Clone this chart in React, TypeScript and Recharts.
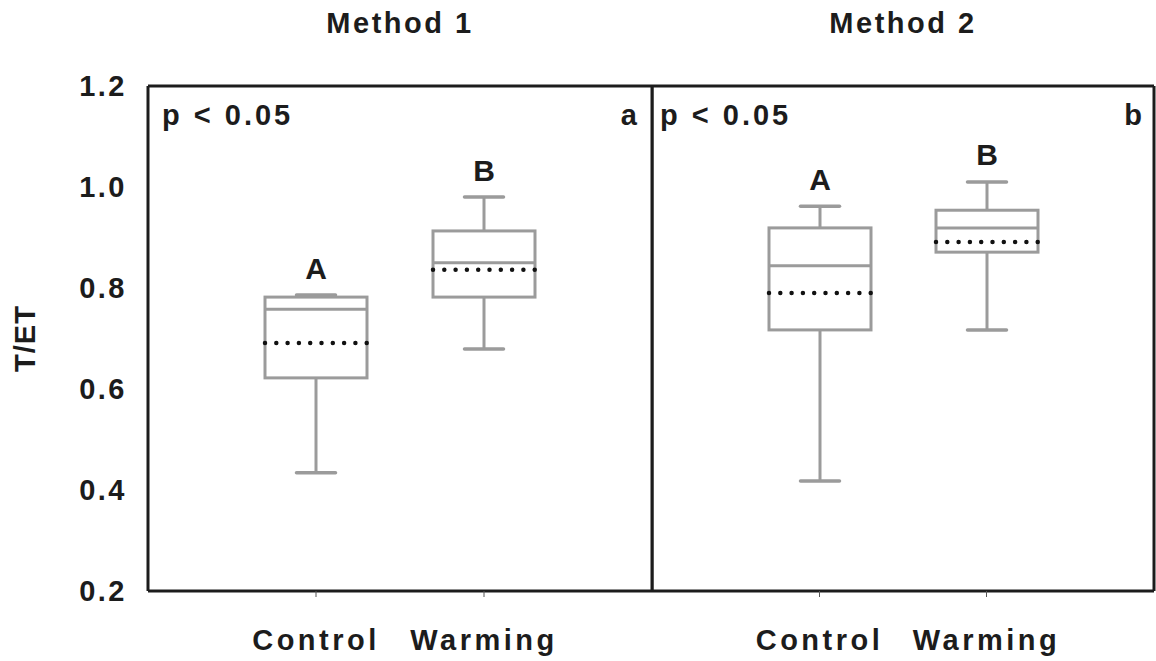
import { BarChart, Bar, XAxis, YAxis } from "recharts";

const CATEGORIES = ["Control", "Warming"];
const Y_TICKS = [0.2, 0.4, 0.6, 0.8, 1.0, 1.2];

// Method 1 (panel a)
const M1_MIN = [0.434, 0.679];
const M1_Q1 = [0.622, 0.782];
const M1_MEDIAN = [0.758, 0.85];
const M1_Q3 = [0.782, 0.913];
const M1_MAX = [0.786, 0.98];
const M1_MEAN = [0.691, 0.836];
const M1_LETTERS = ["A", "B"];

// Method 2 (panel b)
const M2_MIN = [0.418, 0.717];
const M2_Q1 = [0.717, 0.871];
const M2_MEDIAN = [0.844, 0.919];
const M2_Q3 = [0.919, 0.954];
const M2_MAX = [0.962, 1.01];
const M2_MEAN = [0.79, 0.891];
const M2_LETTERS = ["A", "B"];

const FONT = "'Liberation Sans', Arial, sans-serif";
const INK = "#1c1c1c";
const BOX = "#9b9b9b";

type Row = {
  name: string;
  min: number;
  q1: number;
  median: number;
  q3: number;
  max: number;
  mean: number;
  letter: string;
};

function buildRows(
  min: number[],
  q1: number[],
  median: number[],
  q3: number[],
  max: number[],
  mean: number[],
  letters: string[]
): Row[] {
  return CATEGORIES.map((name, i) => ({
    name,
    min: min[i],
    q1: q1[i],
    median: median[i],
    q3: q3[i],
    max: max[i],
    mean: mean[i],
    letter: letters[i],
  }));
}

const method1 = buildRows(M1_MIN, M1_Q1, M1_MEDIAN, M1_Q3, M1_MAX, M1_MEAN, M1_LETTERS);
const method2 = buildRows(M2_MIN, M2_Q1, M2_MEDIAN, M2_Q3, M2_MAX, M2_MEAN, M2_LETTERS);

function BoxShape(props: any) {
  const { x, y, width, height, payload } = props;
  const top = Math.min(y, y + height);
  const h = Math.abs(height);
  const span = payload.max - payload.min;
  const px = (v: number) => top + ((payload.max - v) / span) * h;
  const cx = x + width / 2;
  const cap = 19.5;
  const yMax = px(payload.max);
  const yQ3 = px(payload.q3);
  const yMed = px(payload.median);
  const yQ1 = px(payload.q1);
  const yMin = px(payload.min);
  const yMean = px(payload.mean);

  return (
    <g>
      <line x1={cx} x2={cx} y1={yMax} y2={yQ3} stroke={BOX} strokeWidth={3} />
      <line x1={cx} x2={cx} y1={yQ1} y2={yMin} stroke={BOX} strokeWidth={3} />
      <line x1={cx - cap} x2={cx + cap} y1={yMax} y2={yMax} stroke={BOX} strokeWidth={3.5} strokeLinecap="round" />
      <line x1={cx - cap} x2={cx + cap} y1={yMin} y2={yMin} stroke={BOX} strokeWidth={3.5} strokeLinecap="round" />
      <rect x={x} y={yQ3} width={width} height={yQ1 - yQ3} fill="none" stroke={BOX} strokeWidth={3} />
      <line x1={x} x2={x + width} y1={yMed} y2={yMed} stroke={BOX} strokeWidth={3} />
      <line
        x1={x}
        x2={x + width}
        y1={yMean}
        y2={yMean}
        stroke="#111"
        strokeWidth={4.5}
        strokeLinecap="round"
        strokeDasharray="0 11.3"
      />
      <text
        x={cx}
        y={yMax - 27}
        textAnchor="middle"
        dominantBaseline="central"
        fontFamily={FONT}
        fontWeight={700}
        fontSize={30}
        fill={INK}
      >
        {payload.letter}
      </text>
    </g>
  );
}

const textStyle = {
  fontFamily: FONT,
  fontWeight: 700,
  fontSize: 29,
  fill: INK,
};

function panelDecor(title: string, tag: string, pInset: number, tagInset: number) {
  return (props: any) => {
    const { x, y, width } = props.viewBox;
    return (
      <g>
        <text x={x + width / 2} y={y - 52} textAnchor="middle" letterSpacing={2.5} {...textStyle}>
          {title}
        </text>
        <text x={x + pInset} y={y + 40} textAnchor="start" letterSpacing={3} {...textStyle}>
          p &lt; 0.05
        </text>
        <text x={x + width - tagInset} y={y + 40} textAnchor="end" {...textStyle}>
          {tag}
        </text>
      </g>
    );
  };
}

function yTitle(props: any) {
  const { y, height } = props.viewBox;
  const cx = 25;
  const cy = y + height / 2;
  return (
    <text
      x={cx}
      y={cy}
      transform={`rotate(-90 ${cx} ${cy})`}
      textAnchor="middle"
      dominantBaseline="central"
      letterSpacing={1}
      {...textStyle}
    >
      T/ET
    </text>
  );
}

const xTick = {
  fontFamily: FONT,
  fontWeight: 700,
  fontSize: 29,
  fill: INK,
  letterSpacing: 3.5,
};

function Panel({
  data,
  width,
  left,
  marginRight,
  yAxisWidth,
  showYTicks,
  title,
  tag,
  pInset,
  tagInset,
}: {
  data: Row[];
  width: number;
  left: number;
  marginRight: number;
  yAxisWidth: number;
  showYTicks: boolean;
  title: string;
  tag: string;
  pInset: number;
  tagInset: number;
}) {
  const plotW = width - yAxisWidth - marginRight - 1;
  const pad = Math.round(plotW / 6);
  return (
    <div style={{ position: "absolute", left, top: 0 }}>
      <BarChart
        width={width}
        height={661}
        data={data}
        margin={{ top: 85, right: marginRight, bottom: 20, left: 0 }}
      >
        <XAxis
          dataKey="name"
          height={50}
          padding={{ left: pad, right: pad }}
          axisLine={{ stroke: INK, strokeWidth: 3 }}
          tickLine={{ stroke: "#555", strokeWidth: 1 }}
          tickSize={6}
          tickMargin={32}
          tick={xTick}
        />
        <XAxis
          xAxisId="top"
          dataKey="name"
          orientation="top"
          height={1}
          padding={{ left: pad, right: pad }}
          axisLine={{ stroke: INK, strokeWidth: 3 }}
          tickLine={false}
          tick={false}
          label={{ content: panelDecor(title, tag, pInset, tagInset) }}
        />
        <YAxis
          type="number"
          domain={[0.2, 1.2]}
          ticks={Y_TICKS}
          width={yAxisWidth}
          allowDataOverflow
          axisLine={{ stroke: INK, strokeWidth: 3 }}
          tickLine={false}
          tickSize={0}
          tickMargin={21}
          tick={showYTicks ? { ...xTick, letterSpacing: 2.5 } : false}
          tickFormatter={(v: number) => v.toFixed(1)}
          label={showYTicks ? { content: yTitle } : undefined}
        />
        <YAxis
          yAxisId="right"
          orientation="right"
          type="number"
          domain={[0.2, 1.2]}
          width={1}
          axisLine={{ stroke: INK, strokeWidth: 3 }}
          tickLine={false}
          tick={false}
        />
        <Bar
          dataKey={(d: Row) => [d.min, d.max]}
          barSize={102}
          shape={BoxShape}
          isAnimationActive={false}
        />
      </BarChart>
    </div>
  );
}

export default function App() {
  return (
    <div
      style={{
        position: "absolute",
        left: 0,
        top: 0,
        width: 1156,
        height: 661,
        background: "#fff",
        overflow: "hidden",
        fontFamily: FONT,
      }}
    >
      <Panel
        data={method1}
        width={660}
        left={0}
        marginRight={7}
        yAxisWidth={148}
        showYTicks
        title="Method 1"
        tag="a"
        pInset={14}
        tagInset={15}
      />
      <Panel
        data={method2}
        width={505}
        left={651}
        marginRight={1}
        yAxisWidth={1}
        showYTicks={false}
        title="Method 2"
        tag="b"
        pInset={8}
        tagInset={12}
      />
    </div>
  );
}
